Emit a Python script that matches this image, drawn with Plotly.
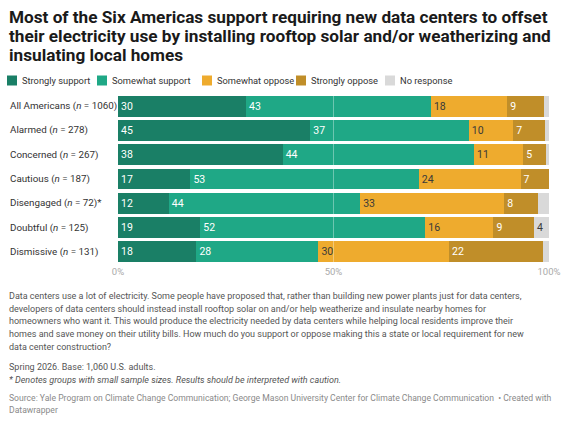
import plotly.graph_objects as go

# ---------------------------------------------------------------------------
# Data (percent of each group)
# ---------------------------------------------------------------------------
groups = [
    "All Americans (<i>n</i> = 1060)",
    "Alarmed (<i>n</i> = 278)",
    "Concerned (<i>n</i> = 267)",
    "Cautious (<i>n</i> = 187)",
    "Disengaged (<i>n</i> = 72)*",
    "Doubtful (<i>n</i> = 125)",
    "Dismissive (<i>n</i> = 131)",
]
strongly_support = [29.7, 44.6, 38.2, 16.8, 11.8, 19.1, 18.2]
somewhat_support = [42.9, 36.8, 44.4, 53.0, 44.4, 52.2, 28.3]
somewhat_oppose = [17.7, 10.3, 11.4, 23.6, 33.4, 15.8, 30.3]
strongly_oppose = [8.6, 7.4, 5.2, 6.6, 7.8, 9.4, 21.9]
no_response = [1.1, 0.9, 0.8, 0.0, 2.6, 3.5, 1.3]

series = [
    ("Strongly support", strongly_support, "#1a7f66", "white"),
    ("Somewhat support", somewhat_support, "#1fa886", "white"),
    ("Somewhat oppose", somewhat_oppose, "#eeab2e", "#3a3a3a"),
    ("Strongly oppose", strongly_oppose, "#c08e29", "white"),
    ("No response", no_response, "#d9d9d9", "#3a3a3a"),
]

x_ticks = [0, 50, 100]
x_tick_labels = ["0%", "50%", "100%"]

title_lines = [
    "Most of the Six Americas support requiring new data centers to offset",
    "their electricity use by installing rooftop solar and/or weatherizing and",
    "insulating local homes",
]
note_lines = [
    "Data centers use a lot of electricity. Some people have proposed that, rather than building new power plants just for data centers,",
    "developers of data centers should instead install rooftop solar on and/or help weatherize and insulate nearby homes for",
    "homeowners who want it. This would produce the electricity needed by data centers while helping local residents improve their",
    "homes and save money on their utility bills. How much do you support or oppose making this a state or local requirement for new",
    "data center construction?",
    "Spring 2026. Base: 1,060 U.S. adults.",
    "<i>* Denotes groups with small sample sizes. Results should be interpreted with caution.</i>",
]
source_lines = [
    "Source: Yale Program on Climate Change Communication; George Mason University Center for Climate Change Communication  • Created with",
    "Datawrapper",
]

# ---------------------------------------------------------------------------
# Page geometry (pixels)
# ---------------------------------------------------------------------------
W, H = 566, 421
M_L, M_R, M_T, M_B = 118, 17, 94, 157
PLOT_W = W - M_L - M_R
PLOT_H = H - M_T - M_B


def px_x(px):
    """page x pixel -> paper x"""
    return (px - M_L) / PLOT_W


def px_y(py):
    """page y pixel (from top) -> paper y"""
    return (H - M_B - py) / PLOT_H


fig = go.Figure()
for name, vals, color, txt_color in series:
    fig.add_trace(go.Bar(
        y=groups,
        x=vals,
        name=name,
        orientation="h",
        marker=dict(color=color, line=dict(width=0)),
        text=[f"{v:.0f}" if v >= 3.5 else "" for v in vals],
        textposition="inside",
        insidetextanchor="start",
        textfont=dict(size=10.5, color=txt_color, family="Roboto"),
        constraintext="none",
        hoverinfo="skip",
        showlegend=False,
    ))

# group labels, left aligned like the original
for g in groups:
    fig.add_annotation(
        x=px_x(8), xref="paper", y=g, yref="y",
        text=g, showarrow=False, xanchor="left",
        font=dict(size=9.8, color="#333333"),
    )

# hand-made legend row (plotly's own legend spaces items too widely)
legend_x = [7, 97, 202, 296, 385]
for (name, _, color, _), lx in zip(series, legend_x):
    fig.add_shape(
        type="rect", xref="paper", yref="paper",
        x0=px_x(lx), x1=px_x(lx + 10), y0=px_y(75.5), y1=px_y(85.5),
        fillcolor=color, line=dict(width=0),
    )
    fig.add_annotation(
        x=px_x(lx + 13), xref="paper", y=px_y(80.5), yref="paper",
        text=name, showarrow=False, xanchor="left", yanchor="middle",
        font=dict(size=9.3, color="#333333"),
    )

# title
for line, ty in zip(title_lines, [16.5, 36, 55.5]):
    fig.add_annotation(
        x=px_x(7), xref="paper", y=px_y(ty), yref="paper",
        text=f"<b>{line}</b>", showarrow=False, xanchor="left", yanchor="middle",
        font=dict(size=17.2, color="#1a1a1a"),
    )

# notes under the chart
note_y = [296, 308.7, 321.4, 334.1, 346.8, 367, 379.5]
for line, ny in zip(note_lines, note_y):
    fig.add_annotation(
        x=px_x(7), xref="paper", y=px_y(ny), yref="paper",
        text=line, showarrow=False, xanchor="left", yanchor="middle",
        font=dict(size=9.0, color="#555555"),
    )
for line, sy in zip(source_lines, [398, 410]):
    fig.add_annotation(
        x=px_x(7), xref="paper", y=px_y(sy), yref="paper",
        text=line, showarrow=False, xanchor="left", yanchor="middle",
        font=dict(size=8.6, color="#8a8a8a"),
    )

# faint grid line drawn over the bars at 50%
fig.add_shape(
    type="line", x0=50, x1=50, y0=0, y1=1, xref="x", yref="paper",
    line=dict(color="rgba(255,255,255,0.35)", width=1), layer="above",
)

fig.update_layout(
    width=W,
    height=H,
    barmode="stack",
    bargap=0.14,
    plot_bgcolor="white",
    paper_bgcolor="white",
    font=dict(family="Roboto, Arial, sans-serif", size=11, color="#333333"),
    margin=dict(l=M_L, r=M_R, t=M_T, b=M_B, autoexpand=False),
    showlegend=False,
    hovermode=False,
)
fig.update_xaxes(
    range=[0, 100], tickvals=x_ticks, ticktext=x_tick_labels,
    showgrid=False, zeroline=False, showline=False, ticks="",
    tickfont=dict(size=9.5, color="#aaaaaa"), fixedrange=True,
)
fig.update_yaxes(
    categoryorder="array", categoryarray=groups, autorange="reversed",
    showticklabels=False, showgrid=False, zeroline=False, fixedrange=True,
)

# the page's default 8px body margin would push the figure off the window
fig.write_html(
    "out.html",
    config={"displayModeBar": False},
    post_script="document.body.style.margin = '0';",
)
